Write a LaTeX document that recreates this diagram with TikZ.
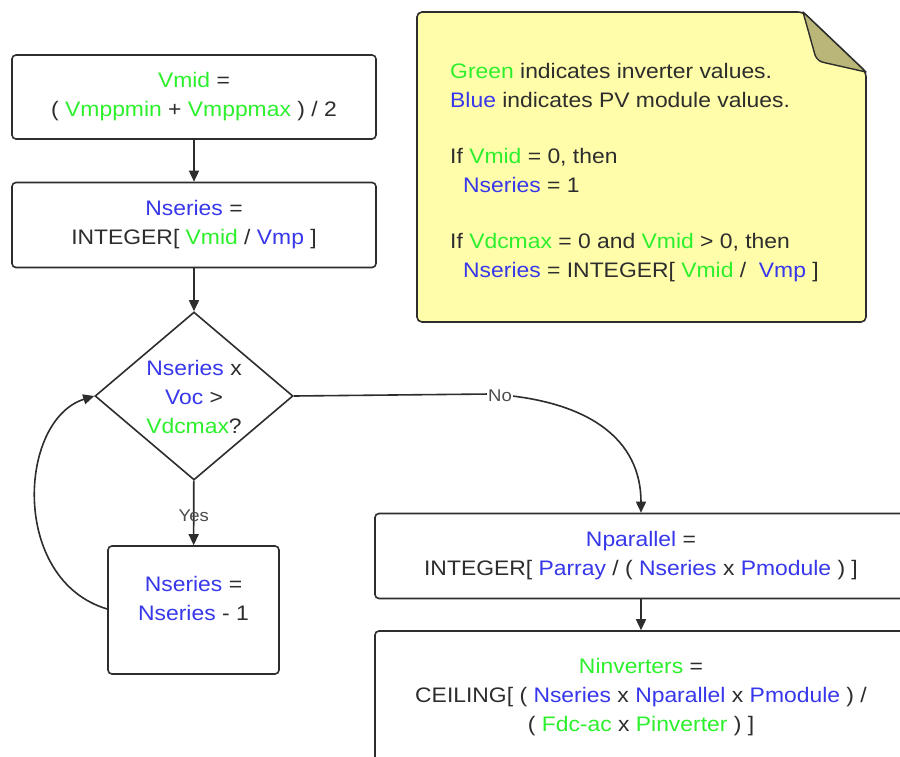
\documentclass[tikz,border=0pt]{standalone}
\usepackage{fontspec}
\setmainfont{Liberation Sans}[FakeStretch=1.09]
\usetikzlibrary{shapes.geometric,arrows.meta}
\definecolor{grn}{RGB}{45,240,45}
\definecolor{blu}{RGB}{55,55,235}
\definecolor{ink}{RGB}{45,45,45}
\definecolor{notey}{RGB}{255,253,170}
\definecolor{foldc}{RGB}{185,182,120}
\newcommand\gtxt[1]{\textcolor{grn}{#1}}
\newcommand\btxt[1]{\textcolor{blu}{#1}}
\tikzset{
  box/.style={draw=ink, line width=1.6pt, rounded corners=4pt, fill=white, align=center,
    text=ink, inner sep=0pt, font=\fontsize{21}{29}\selectfont},
  dia/.style={draw=ink, line width=1.6pt, diamond, inner sep=0pt, fill=white},
  txt/.style={text=ink, align=center, inner sep=0pt, font=\fontsize{21}{29}\selectfont},
  notetxt/.style={text=ink, anchor=base west, inner sep=0pt, font=\fontsize{21}{29}\selectfont},
  conn/.style={draw=ink, line width=1.6pt, -{Triangle[length=11pt,width=10pt]}},
  lab/.style={text=ink!85, inner sep=1pt, font=\fontsize{17}{20}\selectfont}
}
\begin{document}
\begin{tikzpicture}[x=1pt,y=-1pt]
\useasboundingbox (0,0) rectangle (900,756);
\fill[white] (0,0) rectangle (900,756);
\clip (0,0) rectangle (900,756);
% note
\filldraw[fill=notey, draw=ink, line width=1.6pt, rounded corners=5pt]
  (417,12) -- (803,12) -- (866,72) -- (866,322) -- (417,322) -- cycle;
\filldraw[fill=foldc, draw=ink, line width=1.4pt, line join=round]
  (803,12) -- (815,55) .. controls (817,60) and (820,62) .. (826,63) -- (866,72) -- cycle;
\node[notetxt] (n1) at (450,78) {\gtxt{Green} indicates inverter values.};
\node[notetxt] (n2) at (450,107) {\btxt{Blue} indicates PV module values.};
\node[notetxt] (n3) at (450,163) {If \gtxt{Vmid} = 0, then};
\node[notetxt] (n4) at (463,192) {\btxt{Nseries} = 1};
\node[notetxt] (n5) at (450,248) {If \gtxt{Vdcmax} = 0 and \gtxt{Vmid} > 0, then};
\node[notetxt] (n6) at (463,277) {\btxt{Nseries} = INTEGER[ \gtxt{Vmid} /\ \ \btxt{Vmp} ]};
% flow boxes
\node[box, minimum width=364pt, minimum height=84pt] (b1) at (194,97)
  {\gtxt{Vmid} =\\( \gtxt{Vmppmin} + \gtxt{Vmppmax} ) / 2};
\node[box, minimum width=364pt, minimum height=85pt] (b2) at (194,225)
  {\btxt{Nseries} =\\INTEGER[ \gtxt{Vmid} / \btxt{Vmp} ]};
\node[dia, minimum width=198pt, minimum height=168pt] (dec) at (194,396) {};
\node[txt] (dectxt) at (194,397) {\btxt{Nseries} x\\\btxt{Voc} >\\\gtxt{Vdcmax}?};
\node[box, minimum width=171pt, minimum height=128pt] (b3) at (193.5,610)
  {\btxt{Nseries} =\\\btxt{Nseries} - 1\\[-6pt]};
\node[box, minimum width=532pt, minimum height=85pt] (b4) at (641,556)
  {\btxt{Nparallel} =\\INTEGER[ \btxt{Parray} / ( \btxt{Nseries} x \btxt{Pmodule} ) ]};
\node[box, minimum width=532pt, minimum height=132pt] (b5) at (641,697)
  {\gtxt{Ninverters} =\\CEILING[ ( \btxt{Nseries} x \btxt{Nparallel} x \btxt{Pmodule} ) /\\( \gtxt{Fdc-ac} x \gtxt{Pinverter} ) ]};
% connectors
\draw[conn] (b1) -- (b2);
\draw[conn] (b2) -- (dec);
\draw[conn] (dec) -- node[lab, pos=0.55] (yes) {Yes} (b3);
\draw[conn] (b4) -- (b5);
\coordinate (nomid) at (490,394);
\draw[conn] (dec.east) -- (nomid) .. controls (590,400) and (641,440) .. (b4.north);
\node[lab, fill=white] (no) at (500,396) {No};
\coordinate (loopstart) at (b3.west |- 0,609);
\draw[conn] (loopstart) .. controls (10,580) and (18,420) .. (dec.west);
\end{tikzpicture}
\end{document}
